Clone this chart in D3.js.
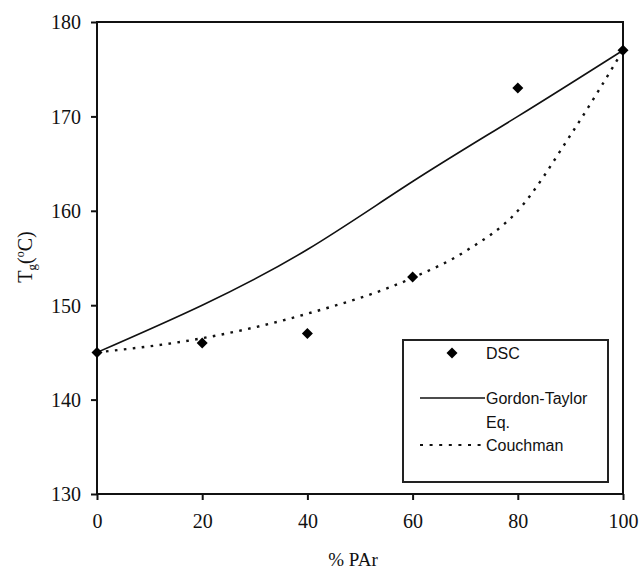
<!DOCTYPE html>
<html><head><meta charset="utf-8">
<script src="https://cdn.jsdelivr.net/npm/d3@7"></script>
<style>body{margin:0;background:#fff}svg{display:block}</style>
</head><body>
<svg id="c" width="640" height="569"></svg>
<script>
const xTicks = [0, 20, 40, 60, 80, 100];
const yTicks = [130, 140, 150, 160, 170, 180];
const dscX = [0, 20, 40, 60, 80, 100];
const dscY = [145, 146, 147, 153, 173, 177];
const gtX = [0, 20, 40, 60, 80, 100];
const gtY = [145, 150, 155.9, 163.1, 170, 177];
const cmX = [0, 20, 40, 60, 70, 80, 90, 100];
const cmY = [145, 146.5, 149.1, 152.9, 155.7, 160, 168, 177];
const legendLabels = ["DSC", "Gordon-Taylor", "Eq.", "Couchman"];

const svg = d3.select("#c");
const L = 97, R = 623, T = 22, B = 494;
const x = d3.scaleLinear().domain([0, 100]).range([L, R]);
const y = d3.scaleLinear().domain([130, 180]).range([B, T]);

// axes
const yAxis = d3.axisLeft(y).tickValues(yTicks).tickSize(6).tickPadding(10);
const gy = svg.append("g").attr("transform", `translate(${L},0)`).call(yAxis);
const xAxis = d3.axisBottom(x).tickValues(xTicks).tickSize(6).tickPadding(16);
const gx = svg.append("g").attr("transform", `translate(0,${B})`).call(xAxis);
[gx, gy].forEach(g => {
  g.select(".domain").remove();
  g.selectAll(".tick line").attr("stroke", "#111").attr("stroke-width", 2);
  g.selectAll(".tick text").attr("fill", "#111")
    .style("font-family", "'Liberation Serif', 'DejaVu Serif', serif")
    .style("font-size", "20px");
});
gy.selectAll(".tick text").attr("dy", "0.34em");
gx.selectAll(".tick text").attr("dy", "0.6em");

// frame
svg.append("rect").attr("x", x(0)).attr("y", y(180))
  .attr("width", x(100) - x(0)).attr("height", y(130) - y(180))
  .attr("fill", "none").attr("stroke", "#111").attr("stroke-width", 2);

// lines
const gtLine = d3.line().x(d => x(d[0])).y(d => y(d[1])).curve(d3.curveNatural);
const cmLine = d3.line().x(d => x(d[0])).y(d => y(d[1])).curve(d3.curveMonotoneX);
svg.append("path").datum(gtX.map((v, i) => [v, gtY[i]]))
  .attr("d", gtLine).attr("fill", "none").attr("stroke", "#111").attr("stroke-width", 1.6);
svg.append("path").datum(cmX.map((v, i) => [v, cmY[i]]))
  .attr("d", cmLine).attr("fill", "none").attr("stroke", "#111")
  .attr("stroke-width", 2.4).attr("stroke-dasharray", "2.6,6.4");

// diamonds
function diamond(cx, cy, r) {
  return `M${cx},${cy - r}L${cx + r},${cy}L${cx},${cy + r}L${cx - r},${cy}Z`;
}
svg.append("g").selectAll("path").data(dscX.map((v, i) => [v, dscY[i]]))
  .join("path").attr("d", d => diamond(x(d[0]), y(d[1]), 5.5)).attr("fill", "#000");

// legend
const lg = svg.append("g");
lg.append("rect").attr("x", 403).attr("y", 340).attr("width", 205).attr("height", 142)
  .attr("fill", "#fff").attr("stroke", "#222").attr("stroke-width", 2);
lg.append("path").attr("d", diamond(452, 353, 5.5)).attr("fill", "#000");
lg.append("line").attr("x1", 420).attr("x2", 485).attr("y1", 398).attr("y2", 398)
  .attr("stroke", "#111").attr("stroke-width", 1.6);
lg.append("line").attr("x1", 420).attr("x2", 485).attr("y1", 445).attr("y2", 445)
  .attr("stroke", "#111").attr("stroke-width", 2).attr("stroke-dasharray", "3,6.6");
const ly = [353, 398, 422, 445];
lg.selectAll("text").data(legendLabels).join("text")
  .attr("x", 486).attr("y", (d, i) => ly[i]).attr("dy", "0.36em")
  .attr("fill", "#111")
  .style("font-family", "'Liberation Sans', Arial, sans-serif").style("font-size", "16px")
  .text(d => d);

// axis titles
svg.append("text").attr("x", 353).attr("y", 566).attr("text-anchor", "middle")
  .attr("fill", "#111").style("font-family", "'Liberation Serif', serif").style("font-size", "19px")
  .text("% PAr");
const yt = svg.append("text").attr("transform", "translate(32,257) rotate(-90)")
  .attr("text-anchor", "middle").attr("fill", "#111")
  .style("font-family", "'Liberation Serif', serif").style("font-size", "20px");
yt.append("tspan").text("T");
yt.append("tspan").attr("font-size", "13px").attr("dy", "4").text("g");
yt.append("tspan").attr("dy", "-4").text("(");
yt.append("tspan").attr("font-size", "12px").attr("dy", "-8").text("o");
yt.append("tspan").attr("dy", "8").text("C)");
</script>
</body></html>
